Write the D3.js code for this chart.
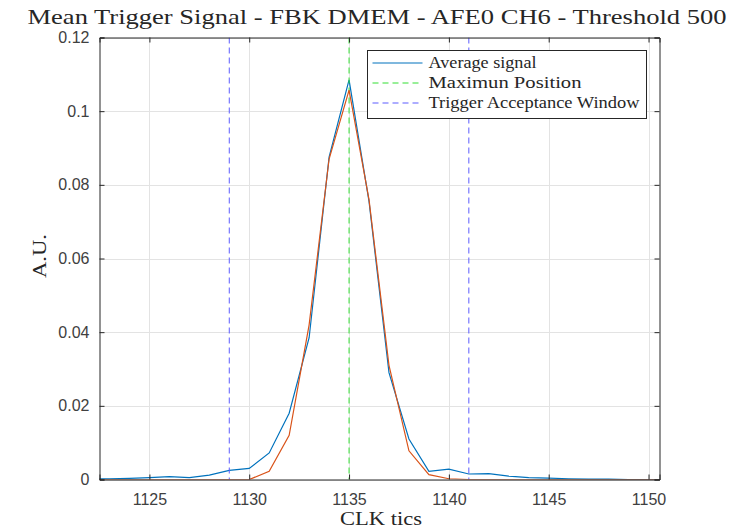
<!DOCTYPE html>
<html lang="en">
<head>
  <meta charset="UTF-8">
  <title>Mean Trigger Signal</title>
</head>
<style>
  body {
    margin: 0;
    background: #fff;
  }
  svg {
    display: block;
  }
  .tick text {
    font-family: "Liberation Sans", Arial, sans-serif;
    font-size: 16px;
    fill: #404040;
  }
  .serif {
    font-family: "Liberation Serif", "Times New Roman", serif;
    fill: #262626;
  }
</style>
<body>
<svg width="743" height="529"></svg>
<script src="https://cdn.jsdelivr.net/npm/d3@7"></script>
<script>
  // data
  const clk = d3.range(1122, 1152);
  const avgSignal = [0.0001, 0.0002, 0.0003, 0.0005, 0.0008, 0.0005, 0.0012, 0.0025, 0.003, 0.0072,
    0.018, 0.0385, 0.0875, 0.1085, 0.0755, 0.029, 0.011, 0.0022, 0.0028, 0.0015,
    0.0016, 0.0009, 0.0005, 0.0004, 0.0002, 0.0001, 0.0001, 0, 0, 0];
  const fitSignal = [0, 0, 0, 0, 0, 0, 0, 0, 0, 0.0022,
    0.012, 0.042, 0.087, 0.1057, 0.076, 0.031, 0.0078, 0.0013, 0.0002, 0,
    0, 0, 0, 0, 0, 0, 0, 0, 0, 0];
  const maxPos = 1135;
  const windowEdges = [1129, 1141];
  const xTicks = [1125, 1130, 1135, 1140, 1145, 1150];
  const yTicks = [0, 0.02, 0.04, 0.06, 0.08, 0.1, 0.12];
  const legendNames = ['Average signal', 'Maximun Position', 'Trigger Acceptance Window'];

  const svg = d3.select('svg');
  const pLeft = 99.5, pRight = 659.5, pTop = 37.5, pBottom = 479.5;

  const x = d3.scaleLinear().domain([1122.5, 1150.55]).range([pLeft, pRight]);
  const y = d3.scaleLinear().domain([0, 0.12]).range([pBottom, pTop]);

  // grid
  const grid = svg.append('g').attr('stroke', '#e3e3e3').attr('stroke-width', 1);
  grid.selectAll('.gx').data(xTicks).enter().append('line')
    .attr('x1', d => Math.round(x(d)) + 0.5).attr('x2', d => Math.round(x(d)) + 0.5)
    .attr('y1', pTop).attr('y2', pBottom);
  grid.selectAll('.gy').data(yTicks).enter().append('line')
    .attr('y1', d => Math.round(y(d)) + 0.5).attr('y2', d => Math.round(y(d)) + 0.5)
    .attr('x1', pLeft).attr('x2', pRight);

  svg.append('clipPath').attr('id', 'clip').append('rect')
    .attr('x', pLeft).attr('y', pTop).attr('width', pRight - pLeft).attr('height', pBottom - pTop);
  const plot = svg.append('g').attr('clip-path', 'url(#clip)');

  const line = d3.line().x((d, i) => x(clk[i])).y(d => y(d));

  plot.append('path').datum(avgSignal)
    .attr('fill', 'none').attr('stroke', '#0072BD').attr('stroke-width', 1.2)
    .attr('d', line);

  plot.append('line')
    .attr('x1', x(maxPos)).attr('x2', x(maxPos)).attr('y1', pTop).attr('y2', pBottom)
    .attr('stroke', '#33e033').attr('stroke-width', 1).attr('stroke-dasharray', '6,4');

  plot.selectAll('.win').data(windowEdges).enter().append('line')
    .attr('x1', d => x(d)).attr('x2', d => x(d)).attr('y1', pTop).attr('y2', pBottom)
    .attr('stroke', '#5c5cff').attr('stroke-width', 1).attr('stroke-dasharray', '6,4');

  plot.append('path').datum(fitSignal)
    .attr('fill', 'none').attr('stroke', '#D95319').attr('stroke-width', 1.2)
    .attr('d', line);

  // axes
  const xAxis = svg.append('g').attr('transform', `translate(0,${pBottom})`)
    .call(d3.axisBottom(x).tickValues(xTicks).tickSize(-5).tickPadding(14).tickFormat(d3.format('d')));
  const xTop = svg.append('g').attr('transform', `translate(0,${pTop})`)
    .call(d3.axisTop(x).tickValues(xTicks).tickSize(-5).tickFormat(''));
  const yAxis = svg.append('g').attr('transform', `translate(${pLeft},0)`)
    .call(d3.axisLeft(y).tickValues(yTicks).tickSize(-5).tickPadding(10).tickFormat(d => d === 0 ? '0' : String(+d.toFixed(2))));
  const yRight = svg.append('g').attr('transform', `translate(${pRight},0)`)
    .call(d3.axisRight(y).tickValues(yTicks).tickSize(-5).tickFormat(''));
  [xAxis, xTop, yAxis, yRight].forEach(g => {
    g.select('.domain').attr('stroke', '#262626');
    g.selectAll('.tick line').attr('stroke', '#262626');
  });

  // title & labels
  svg.append('text').attr('class', 'serif')
    .attr('x', 377).attr('y', 24).attr('text-anchor', 'middle')
    .attr('font-size', 22).attr('textLength', 699).attr('lengthAdjust', 'spacingAndGlyphs')
    .text('Mean Trigger Signal - FBK DMEM - AFE0 CH6 - Threshold 500');
  svg.append('text').attr('class', 'serif')
    .attr('x', 381).attr('y', 525).attr('text-anchor', 'middle')
    .attr('font-size', 18).attr('textLength', 82).attr('lengthAdjust', 'spacingAndGlyphs')
    .text('CLK tics');
  svg.append('text').attr('class', 'serif')
    .attr('transform', 'translate(46,256) rotate(-90)').attr('text-anchor', 'middle')
    .attr('font-size', 18).attr('textLength', 44).attr('lengthAdjust', 'spacingAndGlyphs')
    .text('A.U.');

  // legend
  const legend = svg.append('g').attr('transform', 'translate(367.5,50.5)');
  legend.append('rect').attr('width', 279).attr('height', 68)
    .attr('fill', '#fff').attr('stroke', '#262626').attr('stroke-width', 1);
  const legendStyles = [
    { color: '#0072BD', dash: null },
    { color: '#33e033', dash: '6,4' },
    { color: '#5c5cff', dash: '6,4' }
  ];
  const legendWidths = [108, 153, 211];
  const rows = legend.selectAll('.row').data(legendNames).enter().append('g')
    .attr('transform', (d, i) => `translate(0,${12.5 + i * 20})`);
  rows.append('line').attr('x1', 5).attr('x2', 55)
    .attr('stroke', (d, i) => legendStyles[i].color)
    .attr('stroke-dasharray', (d, i) => legendStyles[i].dash)
    .attr('stroke-width', 1.2);
  rows.append('text').attr('class', 'serif')
    .attr('x', 61).attr('y', 5).attr('font-size', 16)
    .attr('textLength', (d, i) => legendWidths[i]).attr('lengthAdjust', 'spacingAndGlyphs')
    .text(d => d);
</script>
</body>
</html>
